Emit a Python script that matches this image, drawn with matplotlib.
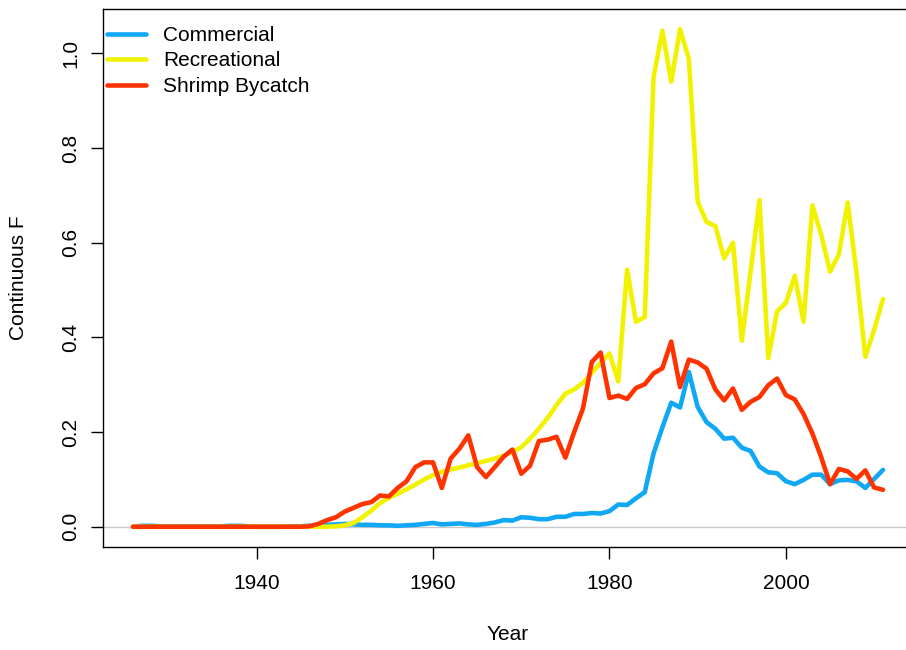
import numpy as np
import matplotlib
matplotlib.use("Agg")
import matplotlib.pyplot as plt

plt.rcParams['font.family'] = ['Liberation Sans', 'DejaVu Sans']

# 年份
years = np.arange(1926, 2012)

# 商业捕捞
commercial = [
    0.000, 0.002, 0.002, 0.001, 0.001, 0.001, 0.001, 0.001, 0.001, 0.001,
    0.001, 0.002, 0.002, 0.001, 0.000, 0.000, 0.000, 0.000, 0.001, 0.001,
    0.002, 0.003, 0.004, 0.005, 0.006, 0.005, 0.004, 0.004, 0.003, 0.003,
    0.002, 0.003, 0.004, 0.006, 0.008, 0.005, 0.006, 0.007, 0.005, 0.004,
    0.006, 0.009, 0.014, 0.013, 0.020, 0.019, 0.016, 0.016, 0.021, 0.021,
    0.027, 0.027, 0.029, 0.028, 0.033, 0.047, 0.046, 0.060, 0.073, 0.155,
    0.210, 0.262, 0.252, 0.327, 0.253, 0.221, 0.207, 0.186, 0.188, 0.167,
    0.160, 0.127, 0.115, 0.113, 0.096, 0.090, 0.099, 0.110, 0.110, 0.090,
    0.098, 0.099, 0.096, 0.082, 0.101, 0.120,
]

# 休闲垂钓
recreational = [
    0.000, 0.000, 0.000, 0.000, 0.000, 0.000, 0.000, 0.000, 0.000, 0.000,
    0.000, 0.000, 0.000, 0.000, 0.000, 0.000, 0.000, 0.000, 0.000, 0.000,
    0.000, 0.000, 0.000, 0.001, 0.003, 0.008, 0.020, 0.034, 0.050, 0.061,
    0.070, 0.079, 0.089, 0.100, 0.109, 0.116, 0.121, 0.125, 0.130, 0.134,
    0.139, 0.144, 0.150, 0.158, 0.168, 0.186, 0.207, 0.230, 0.257, 0.281,
    0.290, 0.304, 0.325, 0.347, 0.366, 0.307, 0.543, 0.433, 0.443, 0.950,
    1.048, 0.940, 1.051, 0.988, 0.687, 0.644, 0.635, 0.567, 0.600, 0.393,
    0.539, 0.690, 0.356, 0.455, 0.473, 0.530, 0.433, 0.679, 0.617, 0.539,
    0.575, 0.685, 0.536, 0.359, 0.416, 0.481,
]

# 虾拖网兼捕
shrimp = [
    0.000, 0.000, 0.000, 0.000, 0.000, 0.000, 0.000, 0.000, 0.000, 0.000,
    0.000, 0.000, 0.000, 0.000, 0.000, 0.000, 0.000, 0.000, 0.000, 0.000,
    0.001, 0.006, 0.014, 0.020, 0.032, 0.040, 0.048, 0.052, 0.066, 0.064,
    0.082, 0.096, 0.126, 0.136, 0.136, 0.082, 0.144, 0.165, 0.193, 0.126,
    0.105, 0.126, 0.148, 0.163, 0.112, 0.129, 0.181, 0.184, 0.190, 0.146,
    0.200, 0.250, 0.348, 0.368, 0.272, 0.277, 0.270, 0.293, 0.301, 0.324,
    0.335, 0.391, 0.295, 0.353, 0.347, 0.334, 0.290, 0.267, 0.292, 0.247,
    0.264, 0.274, 0.299, 0.313, 0.278, 0.269, 0.238, 0.197, 0.147, 0.090,
    0.122, 0.117, 0.101, 0.119, 0.083, 0.078,
]

labels = ["Commercial", "Recreational", "Shrimp Bycatch"]
colors = ["#10A8F5", "#F2F200", "#FF3300"]
xticks = [1940, 1960, 1980, 2000]
yticks = [0.0, 0.2, 0.4, 0.6, 0.8, 1.0]

fig = plt.figure(figsize=(9.06, 6.5), dpi=100)
# 坐标区右边界超出画布（原图被裁切）
ax = fig.add_axes([0.1137, 0.159, 0.894, 0.8267])

# 零线
ax.axhline(0, color="#C8C8C8", lw=1.0, zorder=1)

for series, lab, col in zip([commercial, recreational, shrimp], labels, colors):
    ax.plot(years, series, color=col, lw=3.3, label=lab, zorder=2,
            solid_joinstyle="round", solid_capstyle="round")

# R 风格的 4% 坐标扩展
ymax = max(max(commercial), max(recreational), max(shrimp))
xr = years[-1] - years[0]
ax.set_xlim(years[0] - 0.04 * xr, years[-1] + 0.04 * xr)
ax.set_ylim(-0.04 * ymax, 1.04 * ymax)

ax.set_xticks(xticks)
ax.set_xticklabels([str(x) for x in xticks])
ax.set_yticks(yticks)
ax.set_yticklabels([f"{v:.1f}" for v in yticks], rotation=90, va="center")
ax.tick_params(axis="both", direction="out", length=8.5, width=1.0,
               labelsize=15, color="black")
ax.tick_params(axis="x", pad=11.5)
ax.tick_params(axis="y", pad=8)
for sp in ax.spines.values():
    sp.set_linewidth(1.0)
    sp.set_color("black")

fig.text(508 / 906, 1 - 635 / 650, "Year", ha="center", va="center", fontsize=15)
fig.text(19 / 906, 1 - 278 / 650, "Continuous F", ha="center", va="center",
         rotation=90, fontsize=15)

ax.legend(loc="upper left", bbox_to_anchor=(0.0046, 0.969), frameon=False,
          fontsize=15, handlelength=1.9, handletextpad=0.8, labelspacing=0.31,
          borderpad=0, borderaxespad=0)

fig.savefig("out.png", dpi=100)
